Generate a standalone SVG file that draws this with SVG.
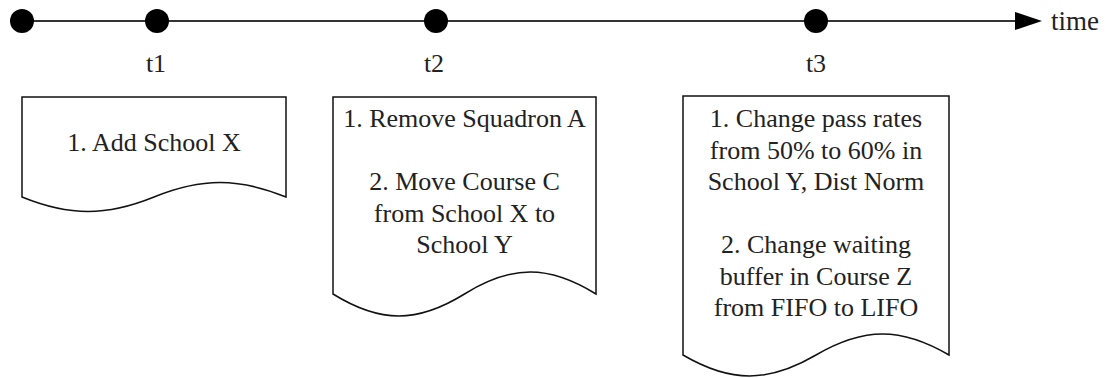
<svg xmlns="http://www.w3.org/2000/svg" width="1112" height="378" viewBox="0 0 1112 378">
  <style>
    .axis { stroke: #333; stroke-width: 2; fill: none; }
    .tick { fill: #000; }
    .doc { fill: #fff; stroke: #111; stroke-width: 1.5; stroke-linejoin: miter; }
    .lbl { font-family: "Liberation Serif", "Times New Roman", Times, "DejaVu Serif", serif; font-size: 26px; fill: #222; text-anchor: middle; }
    .axislbl { font-family: "Liberation Serif", "Times New Roman", Times, "DejaVu Serif", serif; font-size: 27px; fill: #222; }
  </style>
  <defs>
    <marker id="arrow" markerWidth="28" markerHeight="20" refX="0" refY="9" orient="auto" markerUnits="userSpaceOnUse">
      <path d="M0,0 L27,9 L0,18 Z" fill="#000"/>
    </marker>
  </defs>
  <rect width="1112" height="378" fill="#fff"/>

  <!-- time axis -->
  <g id="connectors">
    <line class="axis" x1="22" y1="21" x2="1015" y2="21" marker-end="url(#arrow)"/>
  </g>
  <text class="axislbl" x="1051" y="30">time</text>

  <!-- time points -->
  <g id="t0">
    <circle class="tick" cx="22" cy="21" r="12"/>
  </g>
  <g id="t1">
    <circle class="tick" cx="157" cy="21" r="12"/>
    <text class="lbl" x="156" y="72">t1</text>
  </g>
  <g id="t2">
    <circle class="tick" cx="436" cy="21" r="12"/>
    <text class="lbl" x="434" y="72">t2</text>
  </g>
  <g id="t3">
    <circle class="tick" cx="816" cy="21" r="12"/>
    <text class="lbl" x="816" y="72">t3</text>
  </g>

  <!-- change documents -->
  <g id="doc1">
    <path class="doc" d="M22,97 H286 V197 C238.5,177.7 201.5,177.7 154,197 C106.5,216.3 69.5,216.3 22,197 Z"/>
    <text class="lbl" x="154" y="151">1. Add School X</text>
  </g>
  <g id="doc2">
    <path class="doc" d="M333,97 H596 V294 C548.7,264.7 511.8,264.7 464.5,294 C417.2,323.3 380.3,323.3 333,294 Z"/>
    <text class="lbl" x="464.5" y="127">1. Remove Squadron A</text>
    <text class="lbl" x="464.5" y="190">2. Move Course C</text>
    <text class="lbl" x="464.5" y="221.5">from School X to</text>
    <text class="lbl" x="464.5" y="253">School Y</text>
  </g>
  <g id="doc3">
    <path class="doc" d="M683,96 H949 V355 C901.1,327 863.9,327 816,355 C768.1,383 730.9,383 683,355 Z"/>
    <text class="lbl" x="816" y="127">1. Change pass rates</text>
    <text class="lbl" x="816" y="158.5">from 50% to 60% in</text>
    <text class="lbl" x="816" y="190">School Y, Dist Norm</text>
    <text class="lbl" x="816" y="253">2. Change waiting</text>
    <text class="lbl" x="816" y="284.5">buffer in Course Z</text>
    <text class="lbl" x="816" y="316">from FIFO to LIFO</text>
  </g>
</svg>
